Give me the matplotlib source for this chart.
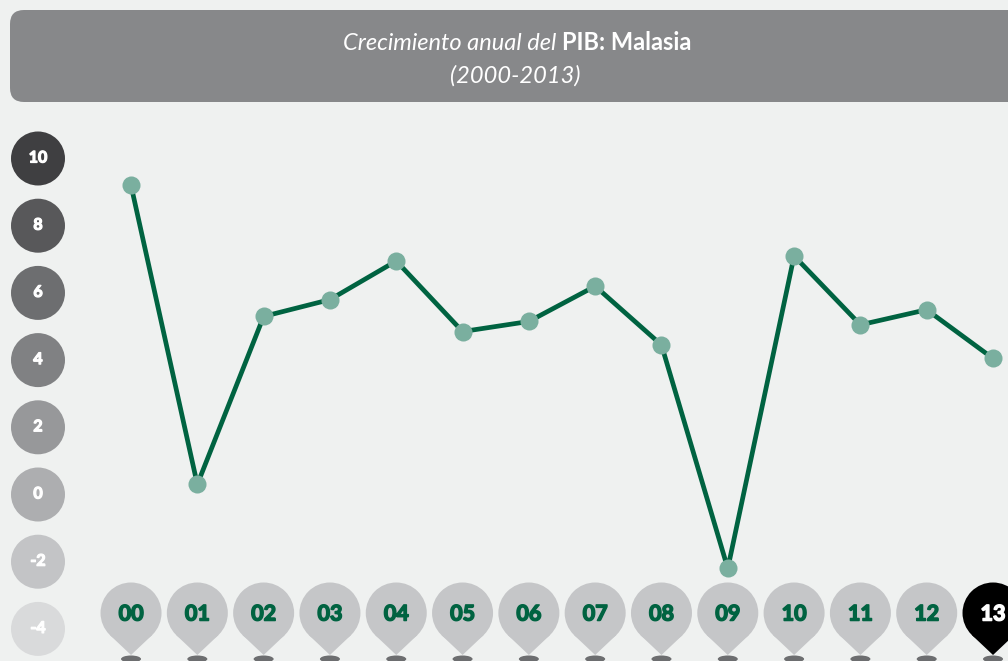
import matplotlib
matplotlib.use('Agg')
import matplotlib.pyplot as plt
import matplotlib.patheffects as pe
from matplotlib.patches import Ellipse, Polygon, FancyBboxPatch
import numpy as np

# data
years = ['00', '01', '02', '03', '04', '05', '06', '07', '08', '09', '10', '11', '12', '13']
growth = [9.2, 0.3, 5.3, 5.8, 6.95, 4.85, 5.15, 6.2, 4.45, -2.2, 7.1, 5.05, 5.5, 4.05]
yticks = [10, 8, 6, 4, 2, 0, -2, -4]
tick_colors = ['#3f3f41', '#58585a', '#6d6e70', '#808183',
               '#97989a', '#adaeb0', '#c3c4c6', '#d9dadb']

W, H = 1008, 661
bg_col = '#eff1f0'
green = '#006341'

plt.rcParams['font.family'] = ['Lato', 'DejaVu Sans']

fig = plt.figure(figsize=(W / 100, H / 100), dpi=100, facecolor=bg_col)

# background layer in pixel coords (title banner)
bg = fig.add_axes([0, 0, 1, 1])
bg.set_xlim(0, W)
bg.set_ylim(H, 0)
bg.axis('off')
bg.add_patch(FancyBboxPatch((10, 10), 1040, 92, boxstyle='round,pad=0,rounding_size=14',
                            fc='#87888a', ec='none'))

# data layer
ax = fig.add_axes([0, 0, 1, 1])
ax.patch.set_alpha(0)
ax.axis('off')
ax.set_xlim(-1.976, 13.226)
ax.set_ylim(-4.955, 14.717)
sx = W / (ax.get_xlim()[1] - ax.get_xlim()[0])
sy = H / (ax.get_ylim()[1] - ax.get_ylim()[0])

x = np.arange(len(years))

# y tick bubbles
tx = ax.get_xlim()[0] + 38 / sx
for v, c in zip(yticks, tick_colors):
    ax.add_patch(Ellipse((tx, v), 54 / sx, 54 / sy, fc=c, ec='none', zorder=2))
    ax.text(tx, v, str(v), color='white', fontsize=11.5, fontweight='bold',
            ha='center', va='center', zorder=3,
            path_effects=[pe.withStroke(linewidth=0.9, foreground='white')])

# x tick pins
cy = ax.get_ylim()[1] - 613 / sy
r = 30.5
for i, lab in enumerate(years):
    last = i == len(years) - 1
    fc = 'black' if last else '#c5c6c8'
    tc = 'white' if last else green
    ax.add_patch(Ellipse((i, cy - 46 / sy), 20 / sx, 7 / sy, fc='#6d6e70', ec='none', zorder=1))
    ax.add_patch(Ellipse((i, cy), 2 * r / sx, 2 * r / sy, fc=fc, ec='none', zorder=2))
    ax.add_patch(Polygon([(i - 21.4 / sx, cy - 21.8 / sy), (i, cy - 42 / sy),
                          (i + 21.4 / sx, cy - 21.8 / sy)], closed=True,
                         fc=fc, ec='none', zorder=2))
    ax.text(i, cy - 1 / sy, lab, color=tc, fontsize=15.5, fontweight='bold',
            ha='center', va='center', zorder=3,
            path_effects=[pe.withStroke(linewidth=1.1, foreground=tc)])

# line
ax.plot(x, growth, color=green, lw=3.4, marker='o', ms=13,
        mfc='#7aaf9f', mec='none', zorder=4)

# title
t1 = bg.text(0, 43, 'Crecimiento anual del ', color='white', fontsize=17,
             fontstyle='italic', ha='left', va='center')
t2 = bg.text(0, 43, 'PIB: Malasia', color='white', fontsize=17,
             fontweight='bold', ha='left', va='center')
bg.text(515, 76, '(2000-2013)', color='white', fontsize=17,
        fontstyle='italic', ha='center', va='center')
fig.canvas.draw()
rend = fig.canvas.get_renderer()
w1 = t1.get_window_extent(rend).width
w2 = t2.get_window_extent(rend).width
x0 = 517 - (w1 + w2) / 2
t1.set_x(x0)
t2.set_x(x0 + w1)

fig.savefig('out.png', dpi=100, facecolor=bg_col)
